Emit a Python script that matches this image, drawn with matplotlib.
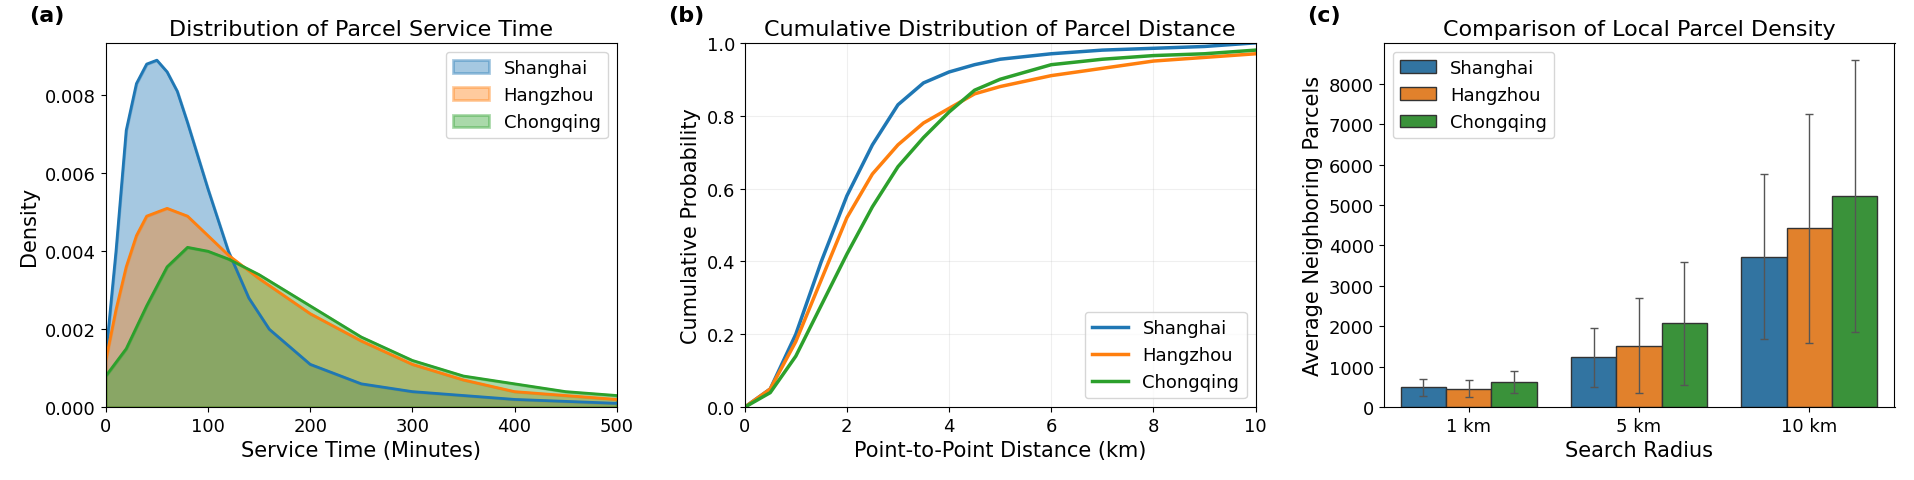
import numpy as np
import matplotlib.pyplot as plt

cities = ["Shanghai", "Hangzhou", "Chongqing"]
colors = ["#1f77b4", "#ff7f0e", "#2ca02c"]
bar_colors = ["#3274a1", "#e1812c", "#3a923a"]

# (a) service time density
sh_x = [0, 10, 20, 30, 40, 50, 60, 70, 80, 100, 120, 140, 160, 200, 250, 300, 400, 500]
sh_y = [0.0013, 0.0040, 0.0071, 0.0083, 0.0088, 0.0089, 0.0086, 0.0081, 0.0073, 0.0056,
        0.0040, 0.0028, 0.0020, 0.0011, 0.0006, 0.0004, 0.0002, 0.0001]
hz_x = [0, 10, 20, 30, 40, 60, 80, 100, 120, 150, 200, 250, 300, 350, 400, 500]
hz_y = [0.0012, 0.0025, 0.0036, 0.0044, 0.0049, 0.0051, 0.0049, 0.0044, 0.0039, 0.0033,
        0.0024, 0.0017, 0.0011, 0.0007, 0.0004, 0.0002]
cq_x = [0, 20, 40, 60, 80, 100, 120, 150, 200, 250, 300, 350, 400, 450, 500]
cq_y = [0.0008, 0.0015, 0.0026, 0.0036, 0.0041, 0.0040, 0.0038, 0.0034, 0.0026, 0.0018,
        0.0012, 0.0008, 0.0006, 0.0004, 0.0003]

# (b) distance CDF
dist_x = [0, 0.5, 1, 1.5, 2, 2.5, 3, 3.5, 4, 4.5, 5, 6, 7, 8, 9, 10]
sh_cdf = [0, 0.05, 0.20, 0.40, 0.58, 0.72, 0.83, 0.89, 0.92, 0.94, 0.955, 0.97, 0.98, 0.985, 0.99, 1.0]
hz_cdf = [0, 0.05, 0.18, 0.35, 0.52, 0.64, 0.72, 0.78, 0.82, 0.86, 0.88, 0.91, 0.93, 0.95, 0.96, 0.97]
cq_cdf = [0, 0.04, 0.14, 0.28, 0.42, 0.55, 0.66, 0.74, 0.81, 0.87, 0.90, 0.94, 0.955, 0.965, 0.97, 0.98]

# (c) local density
radii = ["1 km", "5 km", "10 km"]
dens_mean = {"Shanghai": [490, 1230, 3720], "Hangzhou": [460, 1520, 4420], "Chongqing": [620, 2070, 5220]}
dens_sd = {"Shanghai": [210, 730, 2040], "Hangzhou": [210, 1170, 2840], "Chongqing": [270, 1510, 3360]}

plt.rcParams["font.size"] = 13
fig, axes = plt.subplots(1, 3, figsize=(19.14, 4.81), dpi=100)

ax = axes[0]
for (x, y), c, name in zip([(sh_x, sh_y), (hz_x, hz_y), (cq_x, cq_y)], colors, cities):
    ax.fill_between(x, y, facecolor=c, alpha=0.4, label=name, edgecolor=c, linewidth=2)
    ax.plot(x, y, color=c, lw=2)
ax.set_xlim(0, 500)
ax.set_ylim(0, None)
ax.set_xlabel("Service Time (Minutes)", fontsize=15)
ax.set_ylabel("Density", fontsize=15)
ax.set_title("Distribution of Parcel Service Time", fontsize=16)
ax.legend(loc="upper right")

ax = axes[1]
for y, c, name in zip([sh_cdf, hz_cdf, cq_cdf], colors, cities):
    ax.plot(dist_x, y, color=c, lw=2.5, label=name)
ax.set_xlim(0, 10)
ax.set_ylim(0, 1)
ax.grid(alpha=0.2)
ax.set_xlabel("Point-to-Point Distance (km)", fontsize=15)
ax.set_ylabel("Cumulative Probability", fontsize=15)
ax.set_title("Cumulative Distribution of Parcel Distance", fontsize=16)
ax.legend(loc="lower right")

ax = axes[2]
w = 0.8 / 3
pos = np.arange(len(radii))
for i, name in enumerate(cities):
    ax.bar(pos + (i - 1) * w, dens_mean[name], w, yerr=dens_sd[name], color=bar_colors[i],
           edgecolor="#333333", linewidth=1, label=name,
           error_kw=dict(ecolor="#555555", capsize=3, lw=1))
ax.set_xticks(pos)
ax.set_xticklabels(radii)
ax.set_xlim(-0.5, 2.5)
ax.set_yticks(np.arange(0, 9000, 1000))
ax.set_xlabel("Search Radius", fontsize=15)
ax.set_ylabel("Average Neighboring Parcels", fontsize=15)
ax.set_title("Comparison of Local Parcel Density", fontsize=16)
ax.legend(loc="upper left")

fig.tight_layout(w_pad=2)
for ax, lab in zip(axes, ["(a)", "(b)", "(c)"]):
    bb = ax.get_position()
    fig.text(bb.x0 - 0.04, 0.955, lab, fontsize=16, fontweight="bold")
fig.savefig("out.png")
